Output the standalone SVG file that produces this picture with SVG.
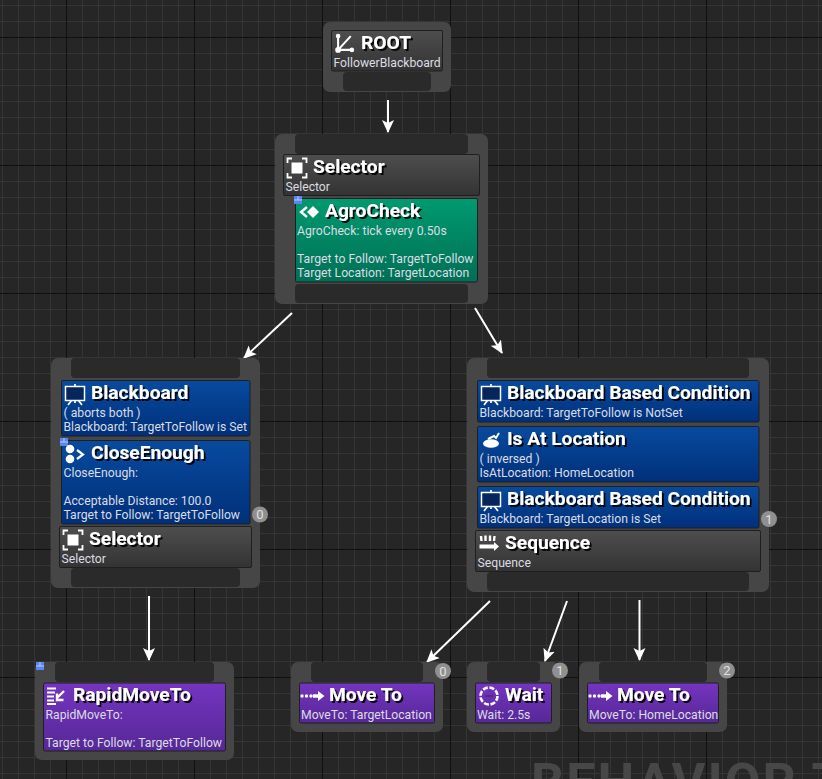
<svg xmlns="http://www.w3.org/2000/svg" xmlns:xlink="http://www.w3.org/1999/xlink" width="822" height="779" viewBox="0 0 822 779">
<style>
.o{fill:#464646}
.n{fill:#2a2a2a}
.c{stroke:#1f1f1f;stroke-width:1}
.gray{fill:url(#gGray)}
.blue{fill:url(#gBlue)}
.green{fill:url(#gGreen)}
.purple{fill:url(#gPurple)}
.t{font-family:Roboto,"Liberation Sans",sans-serif;font-weight:700;font-size:19.2px;fill:#fff;filter:url(#sh)}
.s{font-family:Roboto,"Liberation Sans",sans-serif;font-size:12.2px;fill:#dcdce4}
.b{fill:#909090}
.bt{font-family:Roboto,"Liberation Sans",sans-serif;font-size:13px;fill:#e0e0e0;text-anchor:middle}
.l{stroke:#fff;stroke-width:2;fill:none;marker-end:url(#ah)}
.w{fill:#fff}
.ws{stroke:#fff;fill:none}
</style>
<defs>
<pattern id="minor" width="16" height="16" patternUnits="userSpaceOnUse" x="2" y="5">
<path d="M0 0.5H16M0.5 0V16" stroke="#353535" stroke-width="1" fill="none"/>
</pattern>
<linearGradient id="gGray" x1="0" y1="0" x2="0" y2="1"><stop offset="0" stop-color="#4e4e4e"/><stop offset="1" stop-color="#333"/></linearGradient>
<linearGradient id="gBlue" x1="0" y1="0" x2="0" y2="1"><stop offset="0" stop-color="#084a9e"/><stop offset="1" stop-color="#00307a"/></linearGradient>
<linearGradient id="gGreen" x1="0" y1="0" x2="0" y2="1"><stop offset="0" stop-color="#009a70"/><stop offset="1" stop-color="#006f55"/></linearGradient>
<linearGradient id="gPurple" x1="0" y1="0" x2="0" y2="1"><stop offset="0" stop-color="#7434c0"/><stop offset="1" stop-color="#562896"/></linearGradient>
<filter id="sh" x="-10%" y="-20%" width="120%" height="150%"><feDropShadow dx="2" dy="2" stdDeviation="0.3" flood-color="#000" flood-opacity="0.9"/></filter>
<marker id="ah" markerUnits="userSpaceOnUse" markerWidth="14" markerHeight="14" refX="12" refY="6" orient="auto" viewBox="0 0 14 12">
<path d="M0 0L13 6L0 12L3 6Z" fill="#fff"/>
</marker>
<g id="iSel"><path d="M-9.500 -5V-9.500H-5M5 -9.500H9.500V-5M9.500 5V9.500H5M-5 9.500H-9.500V5" class="ws" stroke-width="1.800"/><rect x="-5.500" y="-5.500" width="11" height="11" class="w"/></g>
<g id="iBB"><rect x="-9.500" y="-7.500" width="19" height="14" fill="#04265c" stroke="#fff" stroke-width="1.500"/><path d="M0 -10V-7.500M-3.500 6.500L-7 11M3.500 6.500L7 11M0 6.500V9" class="ws" stroke-width="1.700"/></g>
<g id="iMove"><circle cx="-14" cy="0" r="1.700" class="w"/><circle cx="-9.500" cy="0" r="1.700" class="w"/><circle cx="-5" cy="0" r="1.700" class="w"/><path d="M-3 -1.800H2V-5L8.500 0L2 5V1.800H-3Z" class="w"/></g>
<g id="iBadge"><rect x="-4" y="-4" width="8" height="8" fill="#5a86f0"/><path d="M0 -4V0M-4 0H4" stroke="#b8ccff" stroke-width="1"/></g>
</defs>
<rect width="822" height="779" fill="#262626"/>
<rect width="822" height="779" fill="url(#minor)"/>
<path d="M66.500 0V779M194.500 0V779M322.500 0V779M450.500 0V779M578.500 0V779M706.500 0V779M0 37.500H822M0 165.500H822M0 293.500H822M0 421.500H822M0 549.500H822M0 677.500H822" stroke="#101010" stroke-width="1" fill="none"/>
<text x="531" y="800" font-family="Roboto,'Liberation Sans',sans-serif" font-weight="700" font-size="52" letter-spacing="2" fill="#474747">BEHAVIOR T</text>

<g id="connectors">
<path class="l" d="M388 100V132"/>
<path class="l" d="M292 313L244 358"/>
<path class="l" d="M475 308L502 353"/>
<path class="l" d="M149 596V660"/>
<path class="l" d="M490 601L427 662"/>
<path class="l" d="M567 601L545 661"/>
<path class="l" d="M639.500 600V660"/>
</g>

<g id="root">
<rect class="o" x="323" y="22" width="128" height="70" rx="7"/>
<rect class="n" x="343" y="72" width="88" height="19" rx="4"/>
<rect class="gray c" x="331.500" y="30.500" width="111" height="40.500" rx="1.500"/>
<g transform="translate(345,43) scale(1.150)"><path d="M-6 -6V6L6 6M-6 6L5 -6" class="ws" stroke-width="1.800"/><circle cx="-6" cy="-6" r="2" class="w"/><circle cx="-6" cy="6" r="2.500" class="w"/><circle cx="6" cy="6" r="2" class="w"/></g>
<text class="t" x="361" y="49">ROOT</text>
<text class="s" x="333.500" y="67">FollowerBlackboard</text>
</g>

<g id="selector-top">
<rect class="o" x="275" y="134" width="213" height="170" rx="7"/>
<rect class="n" x="295" y="134" width="173" height="20" rx="4"/>
<rect class="n" x="295" y="284" width="173" height="19" rx="4"/>
<rect class="gray c" x="283.500" y="154.500" width="196" height="41" rx="1.500"/>
<use xlink:href="#iSel" href="#iSel" x="297" y="168"/>
<text class="t" x="313" y="173">Selector</text>
<text class="s" x="285.500" y="191">Selector</text>
<rect class="green c" x="295.500" y="198.500" width="182" height="83.500" rx="1.500"/>
<use xlink:href="#iBadge" href="#iBadge" x="298" y="200"/>
<g transform="translate(309,212)"><path d="M-2 -5L-8 0L-2 5" class="ws" stroke-width="2.400"/><path d="M4 -6L10 0L4 6L-2 0Z" class="w"/></g>
<text class="t" x="325" y="217">AgroCheck</text>
<text class="s" x="297" y="235">AgroCheck: tick every 0.50s</text>
<text class="s" x="297" y="263">Target to Follow: TargetToFollow</text>
<text class="s" x="297" y="277">Target Location: TargetLocation</text>
</g>

<g id="selector-left">
<rect class="o" x="51" y="358" width="209" height="230" rx="7"/>
<rect class="n" x="71" y="358" width="169" height="20" rx="4"/>
<rect class="n" x="71" y="568" width="169" height="19" rx="4"/>
<rect class="blue c" x="61.500" y="380.500" width="188.500" height="55.500" rx="1.500"/>
<use xlink:href="#iBB" href="#iBB" x="75" y="394"/>
<text class="t" x="91" y="399">Blackboard</text>
<text class="s" x="63.500" y="417">( aborts both )</text>
<text class="s" x="63.500" y="431">Blackboard: TargetToFollow is Set</text>
<rect class="blue c" x="61.500" y="440.500" width="188.500" height="83.500" rx="1.500"/>
<use xlink:href="#iBadge" href="#iBadge" x="64" y="442"/>
<g transform="translate(75,454)"><circle cx="-5" cy="-5" r="4.300" class="w"/><circle cx="-5" cy="5" r="4.300" class="w"/><path d="M2 -4L8 0.500L2 5" class="ws" stroke-width="2.200"/></g>
<text class="t" x="91" y="459">CloseEnough</text>
<text class="s" x="63.500" y="477">CloseEnough:</text>
<text class="s" x="63.500" y="505">Acceptable Distance: 100.0</text>
<text class="s" x="63.500" y="519">Target to Follow: TargetToFollow</text>
<rect class="gray c" x="59.500" y="526.500" width="192" height="41" rx="1.500"/>
<use xlink:href="#iSel" href="#iSel" x="73" y="540"/>
<text class="t" x="89" y="545">Selector</text>
<text class="s" x="61.500" y="563">Selector</text>
<circle class="b" cx="260" cy="514.500" r="8"/>
<text class="bt" x="260" y="519">0</text>
</g>

<g id="sequence-right">
<rect class="o" x="467" y="358" width="302" height="234" rx="7"/>
<rect class="n" x="487" y="358" width="262" height="20" rx="4"/>
<rect class="n" x="487" y="572" width="262" height="19" rx="4"/>
<rect class="blue c" x="477.500" y="380.500" width="281.500" height="41.500" rx="1.500"/>
<use xlink:href="#iBB" href="#iBB" x="491" y="394"/>
<text class="t" x="507" y="399">Blackboard Based Condition</text>
<text class="s" x="479.500" y="417">Blackboard: TargetToFollow is NotSet</text>
<rect class="blue c" x="477.500" y="426.500" width="281.500" height="55.500" rx="1.500"/>
<g transform="translate(491,440)"><ellipse cx="0" cy="3.500" rx="8" ry="4.300" class="w"/><path d="M-3 -1L3 -4L5 -2L8 -7" class="ws" stroke-width="2"/></g>
<text class="t" x="507" y="445">Is At Location</text>
<text class="s" x="479.500" y="463">( inversed )</text>
<text class="s" x="479.500" y="477">IsAtLocation: HomeLocation</text>
<rect class="blue c" x="477.500" y="486.500" width="281.500" height="41.500" rx="1.500"/>
<use xlink:href="#iBB" href="#iBB" x="491" y="500"/>
<text class="t" x="507" y="505">Blackboard Based Condition</text>
<text class="s" x="479.500" y="523">Blackboard: TargetLocation is Set</text>
<rect class="gray c" x="475.500" y="530.500" width="285" height="41" rx="1.500"/>
<g transform="translate(489,543)"><path d="M-8 -7L-7.500 -2M-3.500 -7.500V-2M1 -7.500V-2M5.500 -7L5 -2" class="ws" stroke-width="2.400"/><path d="M-9.500 1.500H5V-1L10 3.500L5 8V5.500H-9.500Z" class="w"/></g>
<text class="t" x="505" y="549">Sequence</text>
<text class="s" x="477.500" y="567">Sequence</text>
<circle class="b" cx="769" cy="519" r="8"/>
<text class="bt" x="769" y="523.500">1</text>
</g>

<g id="rapidmoveto">
<rect class="o" x="35" y="662" width="199" height="98" rx="7"/>
<rect class="n" x="55" y="662" width="159" height="20" rx="4"/>
<rect class="purple c" x="43.500" y="683" width="182" height="68" rx="1.500"/>
<use xlink:href="#iBadge" href="#iBadge" x="40" y="666"/>
<g transform="translate(56,696)"><path d="M-9 -7.500H0M-9 -3.500H-1M-9 0.500H-2M-9 4.500H-2M-9 8H0" class="ws" stroke-width="2"/><path d="M8 -5L1 2M1 -2.500V4H7.500" class="ws" stroke-width="2.400"/></g>
<text class="t" x="73" y="701">RapidMoveTo</text>
<text class="s" x="45.500" y="719">RapidMoveTo:</text>
<text class="s" x="45.500" y="747">Target to Follow: TargetToFollow</text>
</g>

<g id="moveto-target">
<rect class="o" x="291" y="662" width="152" height="70" rx="7"/>
<rect class="n" x="311" y="662" width="112" height="20" rx="4"/>
<rect class="purple c" x="299.500" y="683" width="135" height="40" rx="1.500"/>
<use xlink:href="#iMove" href="#iMove" x="316" y="696"/>
<text class="t" x="329" y="701">Move To</text>
<text class="s" x="301" y="719">MoveTo: TargetLocation</text>
<circle class="b" cx="443" cy="671" r="8"/>
<text class="bt" x="443" y="675.500">0</text>
</g>

<g id="wait">
<rect class="o" x="467" y="662" width="93" height="70" rx="7"/>
<rect class="n" x="487" y="662" width="53" height="20" rx="4"/>
<rect class="purple c" x="475.500" y="683" width="76" height="40" rx="1.500"/>
<g transform="translate(489,696)"><circle r="8.500" fill="none" stroke="#fff" stroke-width="2.600" stroke-dasharray="5 1.700"/><path d="M-4 0H4" stroke="#3a1a70" stroke-width="1"/></g>
<text class="t" x="505" y="701">Wait</text>
<text class="s" x="477" y="719">Wait: 2.5s</text>
<circle class="b" cx="560" cy="670.500" r="8"/>
<text class="bt" x="560" y="675">1</text>
</g>

<g id="moveto-home">
<rect class="o" x="579" y="662" width="148" height="70" rx="7"/>
<rect class="n" x="599" y="662" width="108" height="20" rx="4"/>
<rect class="purple c" x="587.500" y="683" width="131" height="40" rx="1.500"/>
<use xlink:href="#iMove" href="#iMove" x="604" y="696"/>
<text class="t" x="617" y="701">Move To</text>
<text class="s" x="589" y="719">MoveTo: HomeLocation</text>
<circle class="b" cx="727" cy="670.500" r="8"/>
<text class="bt" x="727" y="675">2</text>
</g>
</svg>
